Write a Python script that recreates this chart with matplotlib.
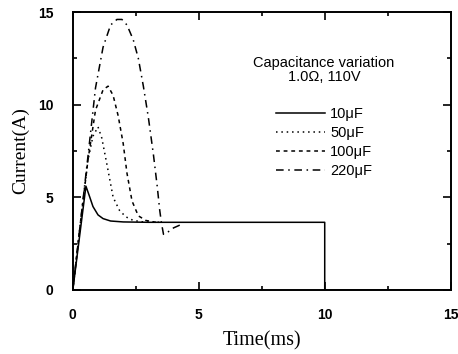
import numpy as np
import matplotlib.pyplot as plt
from matplotlib.ticker import MultipleLocator

# current waveforms (time in ms, current in A)
t_10 = [0, 0.52, 0.65, 0.8, 1.0, 1.2, 1.5, 2.0, 3.0, 10, 10, 15]
i_10 = [0, 5.6, 5.1, 4.5, 4.05, 3.85, 3.72, 3.67, 3.65, 3.65, 0, 0]

t_50 = [0, 0.3, 0.6, 0.8, 1.0, 1.15, 1.35, 1.6, 1.85, 2.1, 2.4, 2.8, 3.5]
i_50 = [0, 3.6, 7.0, 8.3, 8.8, 8.2, 6.8, 5.0, 4.3, 3.95, 3.75, 3.67, 3.65]

t_100 = [0, 0.3, 0.6, 0.9, 1.2, 1.4, 1.6, 1.8, 2.0, 2.15, 2.35, 2.6, 2.9, 3.3]
i_100 = [0, 3.6, 7.0, 9.7, 10.8, 11.0, 10.5, 9.4, 7.9, 6.3, 4.8, 4.0, 3.75, 3.65]

t_220 = [0, 0.3, 0.6, 0.9, 1.2, 1.5, 1.75, 1.95, 2.15, 2.4, 2.6, 2.8, 3.0, 3.2,
         3.35, 3.45, 3.52, 3.6, 3.8, 4.0, 4.25]
i_220 = [0, 3.6, 7.2, 10.9, 13.1, 14.3, 14.6, 14.6, 14.3, 13.5, 12.5, 11.0, 9.3, 7.3,
         5.6, 4.3, 3.6, 3.0, 3.15, 3.35, 3.5]

labels = ["10\u03bcF", "50\u03bcF", "100\u03bcF", "220\u03bcF"]

fig = plt.figure(figsize=(4.58, 3.54), dpi=100)
ax = fig.add_axes([0.159, 0.181, 0.825, 0.785])

ax.plot(t_10, i_10, color="black", linestyle="-", linewidth=1.1, label=labels[0])
ax.plot(t_50, i_50, color="black", linestyle=(0, (1, 2.5)), linewidth=1.1, label=labels[1])
ax.plot(t_100, i_100, color="black", linestyle=(0, (2.5, 2.5)), linewidth=1.1, label=labels[2])
ax.plot(t_220, i_220, color="black", linestyle=(0, (5, 3, 1, 3)), linewidth=1.1, label=labels[3])

ax.set_xlim(0, 15)
ax.set_ylim(0, 15)
ax.xaxis.set_major_locator(MultipleLocator(5))
ax.yaxis.set_major_locator(MultipleLocator(5))
ax.xaxis.set_minor_locator(MultipleLocator(2.5))
ax.yaxis.set_minor_locator(MultipleLocator(2.5))
ax.tick_params(which="both", direction="in", top=True, right=True, width=1.2)
ax.tick_params(which="major", length=6)
ax.tick_params(which="minor", length=3)
ax.tick_params(axis="x", pad=13)
ax.tick_params(axis="y", pad=14)
for lab in ax.get_xticklabels() + ax.get_yticklabels():
    lab.set_fontfamily("Liberation Sans")
    lab.set_fontweight("bold")
    lab.set_fontsize(10)
for s in ax.spines.values():
    s.set_linewidth(1.4)

ax.set_xlabel("Time(ms)", fontfamily="Liberation Serif", fontsize=14.5, labelpad=7)
ax.set_ylabel("Current(A)", fontfamily="Liberation Serif", fontsize=14, labelpad=6)

leg = ax.legend(title="Capacitance variation\n1.0\u03a9, 110V", frameon=False,
                loc="upper center", bbox_to_anchor=(0.665, 0.89),
                handlelength=3.4, handletextpad=0.35, labelspacing=0.33,
                prop={"family": "Liberation Sans", "size": 10.5})
leg.get_title().set_fontfamily("Liberation Sans")
leg.get_title().set_fontsize(10.5)
leg.get_title().set_multialignment("center")
leg.get_title().set_linespacing(1.0)
leg._legend_box.align = "center"
leg._legend_box.sep = 17

fig.savefig("out.png", dpi=100)
